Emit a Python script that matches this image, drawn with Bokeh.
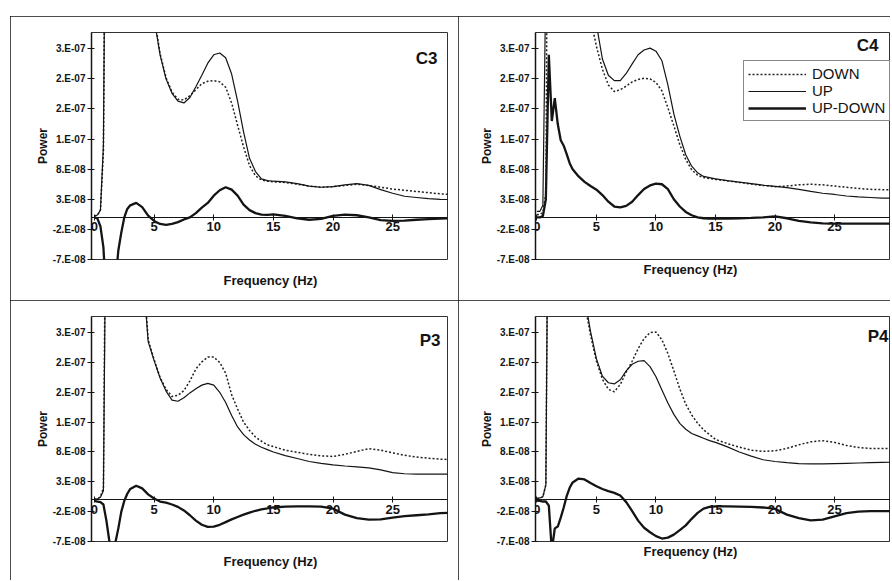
import numpy as np
from bokeh.plotting import figure
from bokeh.models import FixedTicker, Legend, LegendItem, Label, Range1d, Title
from bokeh.layouts import row, column
from bokeh.embed import file_html
from bokeh.resources import INLINE

# ---------------- data (power in units of 1e-8) ----------------
FREQ = [0, 0.25, 0.5, 0.75, 1, 1.25, 1.5, 1.75, 2, 2.25, 2.5, 2.75,
        3, 3.5, 4, 4.5, 5, 5.5, 6, 6.5, 7, 7.5, 8, 8.5, 9, 9.5, 10, 10.5, 11, 11.5,
        12, 12.5, 13, 13.5, 14, 14.5, 15,
        16, 17, 18, 19, 20, 21, 22, 23, 24, 25, 26, 27, 28, 29, 30]
UNIT = 1e-8

C3_UP = [0.2, 0.4, 1.2, 12, 80, 150, 170, 165, 155, 145, 135, 125,
         115, 95, 70, 48, 33, 27, 23, 20.6, 19.3, 19.0, 19.9, 21.7, 23.6, 25.6, 27.0, 27.3, 26.5, 23.8,
         19.3, 14.2, 9.8, 7.6, 6.4, 6.1, 6.0,
         5.9, 5.6, 5.2, 5.0, 5.1, 5.4, 5.6, 5.3, 4.6, 4.0, 3.5, 3.3, 3.1, 3.0, 2.95]
C3_DOWN = [0.2, 0.4, 1.2, 11, 78, 150, 170, 165, 155, 145, 135, 125,
           113, 93, 69, 48, 33.5, 27.2, 23.2, 20.8, 19.6, 19.5, 20.2, 21.2, 22.2, 22.6, 22.7, 22.5, 21.6, 19.0,
           15.3, 11.7, 8.6, 6.9, 6.2, 6.0, 5.9,
           5.8, 5.5, 5.2, 5.0, 5.1, 5.3, 5.5, 5.3, 5.0, 4.7, 4.5, 4.3, 4.1, 3.9, 3.8]
C3_DIFF = [0, -0.2, -1.5, -5, -14, -22, -20, -11, -5.5, -2.5, 0, 1.4,
           2.0, 2.4, 1.7, 0.3, -0.6, -1.1, -1.25, -1.1, -0.8, -0.35, 0.0, 0.7, 1.6, 2.4, 3.6, 4.5, 5.0, 4.6,
           3.6, 2.1, 1.2, 0.7, 0.45, 0.4, 0.5,
           0.25, -0.15, -0.4, -0.25, 0.25, 0.45, 0.35, 0, -0.45, -0.6, -0.55, -0.4, -0.3, -0.2, -0.15]

C4_UP = [1.0, 1.0, 2.0, 40, 130, 170, 180, 175, 165, 155, 145, 135,
         125, 105, 80, 55, 32, 26.3, 23.6, 22.7, 22.7, 23.9, 25.5, 27.0, 27.8, 28.1, 27.6, 26.0, 22.0, 17.2,
         13.5, 10.4, 8.5, 7.4, 6.8, 6.6, 6.4,
         6.1, 5.85, 5.6, 5.35, 5.15, 4.95, 4.65, 4.3, 4.0, 3.8, 3.55, 3.4, 3.3, 3.2, 3.2]
C4_DOWN = [0.45, 0.5, 0.8, 4, 95, 150, 170, 168, 160, 150, 140, 130,
           120, 95, 65, 33, 28.4, 24.6, 22.0, 20.9, 21.2, 21.8, 22.5, 22.9, 23.1, 23.0, 22.4, 21.0, 18.2, 15.2,
           12.1, 9.6, 7.9, 7.0, 6.6, 6.45, 6.3,
           6.05, 5.8, 5.55, 5.3, 5.1, 5.2, 5.4, 5.5, 5.4, 5.2, 5.0, 4.8, 4.65, 4.6, 4.6]
C4_DIFF = [0, 0, 0.2, 3, 27, 16, 19.8, 15.5, 12.8, 11.9, 10.5, 9.0,
           8.0, 6.8, 5.9, 5.2, 4.6, 3.7, 2.6, 1.8, 1.65, 1.9, 2.6, 3.7, 4.7, 5.3, 5.6, 5.5, 4.7, 3.0,
           1.8, 0.9, 0.35, 0.0, -0.15, -0.2, -0.2,
           -0.2, -0.15, -0.1, 0.0, 0.15, -0.15, -0.6, -0.85, -1.0, -1.05, -1.05, -1.05, -1.05, -1.05, -1.05]

P3_UP = [0.1, 0.15, 0.4, 1.5, 60, 130, 160, 165, 160, 150, 140, 125,
         110, 80, 40, 26.5, 23.3, 20.4, 18.2, 16.7, 16.5, 17.1, 17.9, 18.6, 19.2, 19.5, 19.2, 18.0, 16.3, 14.1,
         12.2, 10.9, 10.0, 9.3, 8.8, 8.4, 8.0,
         7.4, 6.9, 6.4, 6.1, 5.85, 5.65, 5.5, 5.35, 5.0, 4.55, 4.35, 4.3, 4.3, 4.3, 4.3]
P3_DOWN = [0.1, 0.15, 0.5, 2.0, 70, 135, 160, 165, 160, 150, 140, 125,
           110, 80, 41, 26.8, 23.5, 20.5, 18.5, 17.3, 17.5, 18.3, 19.9, 21.9, 23.1, 23.9, 23.9, 23.0, 21.2, 17.6,
           15.2, 13.0, 11.6, 10.5, 9.8, 9.2, 8.9,
           8.3, 7.95, 7.6, 7.35, 7.25, 7.6, 8.1, 8.55, 8.3, 7.85, 7.45, 7.15, 6.95, 6.8, 6.7]
P3_DIFF = [-0.2, -0.3, -0.4, -0.8, -3.5, -7.0, -7.3, -7.2, -4.8, -2.0, -0.2, 1.0,
           1.8, 2.35, 1.9, 0.9, 0.2, -0.3, -0.5, -0.8, -1.2, -1.8, -2.6, -3.5, -4.2, -4.55, -4.5, -4.2, -3.75, -3.3,
           -2.9, -2.5, -2.15, -1.85, -1.6, -1.45, -1.3,
           -1.15, -1.1, -1.1, -1.15, -1.5, -2.5, -3.1, -3.35, -3.3, -3.0, -2.75, -2.6, -2.45, -2.25, -2.2]

P4_UP = [0.2, 0.3, 0.5, 2.5, 70, 130, 160, 165, 160, 150, 140, 125,
         110, 80, 34, 28.2, 23.6, 20.7, 19.6, 19.4, 20.1, 21.6, 22.7, 23.2, 23.3, 22.3, 20.6, 18.4, 16.2, 14.3,
         12.8, 11.8, 11.1, 10.7, 10.3, 9.9, 9.6,
         8.85, 8.0, 7.3, 6.7, 6.4, 6.2, 6.05, 6.0, 6.0, 6.05, 6.1, 6.15, 6.2, 6.25, 6.3]
P4_DOWN = [0.2, 0.3, 0.5, 2.5, 75, 135, 160, 165, 160, 150, 140, 125,
           110, 80, 33, 27.6, 23.2, 20.2, 18.5, 18.1, 19.3, 21.4, 23.2, 25.3, 27.0, 28.0, 28.1, 26.8, 24.5, 21.6,
           18.6, 16.0, 14.2, 12.8, 11.7, 10.9, 10.1,
           9.4, 8.8, 8.3, 8.1, 8.2, 8.6, 9.2, 9.7, 9.9, 9.6, 9.1, 8.75, 8.6, 8.6, 8.6]
P4_DIFF = [-0.15, -0.2, -0.3, -0.3, -1.0, -8.5, -4.8, -4.5, -3.0, -1.3, 0.6, 2.0,
           2.9, 3.55, 3.4, 2.8, 2.25, 1.8, 1.45, 1.15, 0.7, -0.4, -1.9, -3.5, -4.7, -5.45, -6.1, -6.5, -6.35, -5.85,
           -5.1, -4.3, -3.2, -2.2, -1.5, -1.2, -1.1,
           -1.1, -1.15, -1.2, -1.3, -1.55, -2.5, -3.1, -3.45, -3.35, -2.8, -2.25, -2.0, -1.9, -1.9, -1.9]

Y_TICKS = [-7e-8, -2e-8, 3e-8, 8e-8, 1.3e-7, 1.8e-7, 2.3e-7, 2.8e-7]
Y_LABELS = ["-7.E-08", "-2.E-08", "3.E-08", "8.E-08", "1.E-07", "2.E-07", "2.E-07", "3.E-07"]
X_TICKS = [0, 5, 10, 15, 20, 25]
SERIES = ["DOWN", "UP", "UP-DOWN"]
PANELS = ["C3", "C4", "P3", "P4"]
X_LABEL = "Frequency (Hz)"
Y_LABEL = "Power"

FONT = "Liberation Sans"
INK = "#141414"


def make_panel(name, up, down, diff, w, h, mb, xr, lab, title_off, legend_loc=None):
    p = figure(width=w, height=h, output_backend="svg", toolbar_location=None,
               x_range=Range1d(xr[0], xr[1]), y_range=Range1d(-7e-8, 3.07e-7),
               min_border_left=mb[0], min_border_right=mb[1],
               min_border_top=mb[2], min_border_bottom=mb[3],
               background_fill_color="white", border_fill_color="white")
    p.styles = {"outline": "1.5px solid #111", "outline-offset": "-1px"}
    p.grid.visible = False
    p.outline_line_color = "#333333"
    p.outline_line_width = 1

    x = np.array(FREQ)
    r_diff = p.line(x, np.array(diff) * UNIT, line_color=INK, line_width=2.3)
    r_down = p.line(x, np.array(down) * UNIT, line_color="#202020", line_width=1.5, line_dash="2 2")
    r_up = p.line(x, np.array(up) * UNIT, line_color=INK, line_width=1.2)

    xa = p.xaxis[0]
    xa.fixed_location = 0
    xa.ticker = FixedTicker(ticks=X_TICKS)
    xa.minor_tick_line_color = None
    xa.major_tick_in = 3
    xa.major_tick_out = 3
    xa.axis_line_color = INK
    xa.axis_line_width = 1
    xa.major_tick_line_color = INK
    xa.major_label_text_font = FONT
    xa.major_label_text_font_size = "13px"
    xa.major_label_text_font_style = "bold"
    xa.major_label_text_color = INK
    xa.major_label_standoff = 2

    ya = p.yaxis[0]
    ya.ticker = FixedTicker(ticks=Y_TICKS)
    ya.major_label_overrides = {t: s for t, s in zip(Y_TICKS, Y_LABELS)}
    ya.minor_tick_line_color = None
    ya.major_tick_in = 3
    ya.major_tick_out = 4
    ya.axis_line_color = INK
    ya.axis_line_width = 1.5
    ya.major_tick_line_color = INK
    ya.major_label_text_font = FONT
    ya.major_label_text_font_size = "10px"
    ya.major_label_text_font_style = "bold"
    ya.major_label_text_color = INK
    ya.major_label_standoff = 2
    ya.axis_label = Y_LABEL
    ya.axis_label_text_font = FONT
    ya.axis_label_text_font_size = "12px"
    ya.axis_label_text_font_style = "bold"
    ya.axis_label_text_color = INK
    ya.axis_label_standoff = 0

    p.add_layout(Title(text=X_LABEL, align="left", offset=title_off[0], standoff=title_off[1],
                       text_font=FONT, text_font_size="13px", text_font_style="bold",
                       text_color=INK), "below")

    p.add_layout(Label(x=lab[0], y=lab[1], text=name, text_align="right", text_baseline="top",
                       text_font=FONT, text_font_size="17px", text_font_style="bold",
                       text_color=INK))

    if legend_loc is not None:
        leg = Legend(items=[LegendItem(label=SERIES[0], renderers=[r_down]),
                            LegendItem(label=SERIES[1], renderers=[r_up]),
                            LegendItem(label=SERIES[2], renderers=[r_diff])],
                     location=legend_loc, label_text_font=FONT, label_text_font_size="15px",
                     label_text_color=INK, glyph_width=58, glyph_height=12, label_height=12,
                     spacing=0, padding=4, margin=0, label_standoff=6,
                     border_line_color=INK, border_line_width=1.2,
                     background_fill_color="white", background_fill_alpha=1)
        p.add_layout(leg)
    return p


p1 = make_panel(PANELS[0], C3_UP, C3_DOWN, C3_DIFF, 448, 284, (81, 11, 16, 41),
                (-0.25, 29.6), (28.76, 2.804e-7), (132, 22))
p2 = make_panel(PANELS[1], C4_UP, C4_DOWN, C4_DIFF, 432, 284, (77, 0, 16, 41),
                (-0.12, 29.7), (28.69, 3.02e-7), (108, 0), legend_loc=(208, 138))
p3 = make_panel(PANELS[2], P3_UP, P3_DOWN, P3_DIFF, 448, 280, (81, 11, 16, 39),
                (-0.25, 29.6), (29.01, 2.835e-7), (132, 20))
p4 = make_panel(PANELS[3], P4_UP, P4_DOWN, P4_DIFF, 432, 280, (77, 0, 16, 39),
                (-0.12, 29.7), (29.53, 2.886e-7), (108, 0))

layout = column(row(p1, p2), row(p3, p4), margin=(16, 0, 0, 10))

open("out.html", "w").write(file_html(layout, INLINE))
